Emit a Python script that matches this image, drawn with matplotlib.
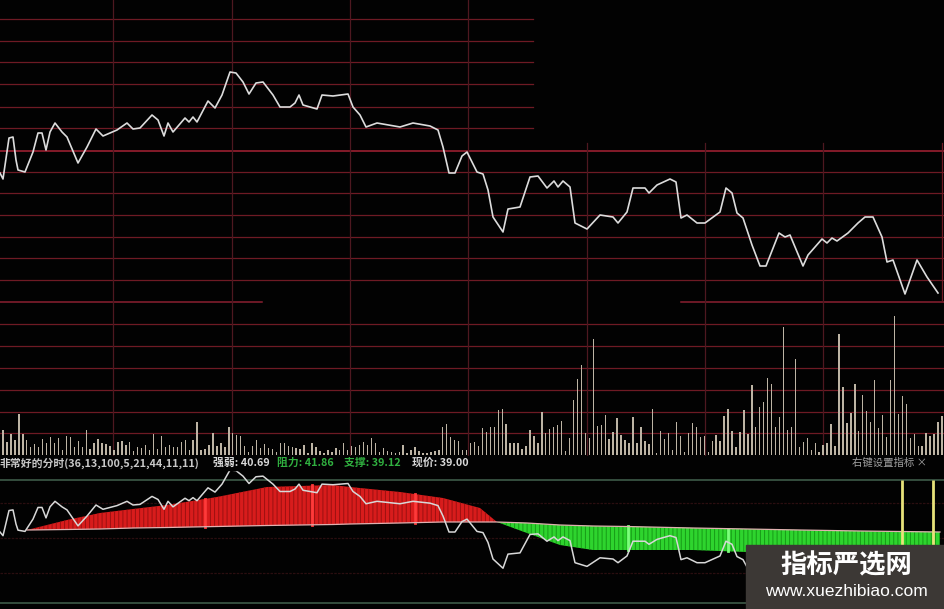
import numpy as np
import matplotlib.pyplot as plt
from matplotlib.patches import Rectangle

plt.rcParams["font.family"] = ["Noto Sans CJK SC", "DejaVu Sans"]
plt.rcParams["hatch.linewidth"] = 0.7

W, H = 945, 609

# intraday price line (t = position along the session, price in yuan)
t_price = [0, 3, 9, 13, 16, 18, 25, 33, 38, 42, 46, 50, 55, 62, 67, 78, 87, 96, 103, 117,
           127, 133, 140, 152, 158, 164, 168, 173, 185, 189, 193, 197, 208, 215, 222, 230,
           236, 243, 249, 256, 263, 273, 280, 290, 295, 299, 303, 317, 322, 333, 348, 353,
           360, 366, 377, 400, 413, 430, 438, 443, 449, 455, 462, 467, 477, 483, 488, 493,
           503, 508, 520, 530, 538, 547, 554, 558, 563, 570, 575, 587, 600, 613, 618, 627,
           633, 645, 649, 657, 670, 676, 681, 687, 697, 705, 720, 726, 732, 737, 743, 752,
           760, 766, 779, 785, 790, 803, 808, 822, 827, 832, 837, 848, 858, 865, 873, 882,
           887, 893, 905, 917, 927, 938]
price = [39.27, 39.21, 39.62, 39.63, 39.40, 39.30, 39.28, 39.48, 39.67, 39.67, 39.50, 39.68,
         39.77, 39.68, 39.63, 39.37, 39.53, 39.71, 39.64, 39.70, 39.77, 39.71, 39.72, 39.85,
         39.80, 39.64, 39.77, 39.68, 39.82, 39.78, 39.83, 39.78, 39.99, 39.92, 40.05, 40.28,
         40.27, 40.18, 40.06, 40.17, 40.18, 40.05, 39.93, 39.93, 39.97, 40.05, 39.95, 39.91,
         40.05, 40.04, 40.06, 39.93, 39.85, 39.73, 39.77, 39.73, 39.77, 39.74, 39.70, 39.53,
         39.27, 39.27, 39.44, 39.48, 39.28, 39.26, 39.10, 38.83, 38.68, 38.91, 38.93, 39.23,
         39.24, 39.12, 39.19, 39.13, 39.19, 39.13, 38.77, 38.71, 38.85, 38.83, 38.77, 38.88,
         39.12, 39.12, 39.07, 39.15, 39.21, 39.18, 38.82, 38.85, 38.77, 38.77, 38.88, 39.12,
         39.07, 38.87, 38.82, 38.55, 38.34, 38.34, 38.67, 38.63, 38.65, 38.34, 38.45, 38.61,
         38.57, 38.62, 38.59, 38.67, 38.77, 38.83, 38.83, 38.63, 38.38, 38.40, 38.06, 38.40,
         38.23, 38.07]

# volume per minute
volume = [25, 13, 21, 15, 41, 21, 15, 8, 11, 8, 16, 12, 18, 12, 17, 5, 19, 18, 8, 14, 8, 25,
          6, 12, 16, 12, 11, 9, 5, 13, 14, 10, 13, 4, 8, 7, 10, 5, 21, 6, 19, 8, 10, 8, 8, 13,
          15, 5, 15, 33, 5, 6, 10, 22, 9, 12, 8, 28, 22, 20, 19,
          9, 3, 9, 15, 7, 11, 7, 6, 3, 12, 12, 9, 8, 7, 6, 10, 2, 12, 8, 4, 2, 5, 3, 7, 5, 12,
          5, 9, 8, 10, 13, 10, 17, 12, 3, 7, 4, 3, 2, 3, 10, 2, 5, 8, 4, 2, 2, 3, 4, 5, 28, 31,
          18, 15, 14, 5, 5, 12,
          13, 9, 27, 23, 28, 28, 45, 46, 31, 12, 12, 12, 6, 9, 25, 19, 12, 43, 22, 26, 28, 30,
          34, 4, 17, 55, 76, 90, 22, 17, 116, 29, 30, 40, 16, 23, 37, 20, 15, 12, 38, 12, 28,
          14, 11, 46, 2, 24, 16, 22, 5, 33, 19, 3, 22, 32, 28, 18, 19, 3,
          14, 20, 14, 39, 46, 24, 8, 23, 45, 21, 70, 28, 48, 53, 77, 71, 28, 38, 128, 25, 28,
          96, 8, 13, 17, 5, 12, 3, 10, 12, 31, 9, 121, 68, 32, 42, 71, 24, 60, 44, 33, 75, 27,
          40, 18, 75, 139, 41, 59, 51, 17, 21, 9, 9, 22, 19, 21, 33, 39]
t_vol = np.linspace(3, 942, len(volume))

# indicator: fast and slow lines
t_ind = [27, 67, 100, 133, 167, 217, 267, 300, 333, 350, 400, 443, 480, 497, 527, 560, 593,
         627, 693, 747, 800, 860, 940]
slow = [70, 70.5, 71, 72, 72.5, 73.5, 74.5, 75, 75.5, 76, 77, 78, 78, 78, 77, 75, 74, 73.5,
        72, 71, 70, 69, 68]
fast = [70, 80, 87, 91, 95, 103, 113, 114, 115, 113, 108, 102, 92, 78, 67, 55, 50, 50, 50,
        48, 48, 50, 55]
hl_t = [205, 312, 415, 628, 728]
hl_lo = [73, 75, 77, 50, 49]
hl_hi = [101, 115, 106, 74, 71]
signal_t = [902, 933]

ind_name = "非常好的分时(36,13,100,5,21,44,11,11)"
qiangruo, zuli, zhicheng, xianjia = "40.69", "41.86", "39.12", "39.00"

fig = plt.figure(figsize=(W / 100, H / 100), dpi=100, facecolor="#020202")

# background grid in pixel space
bg = fig.add_axes([0, 0, 1, 1])
bg.set_xlim(0, W)
bg.set_ylim(H, 0)
bg.set_facecolor("#020202")
bg.axis("off")
grid_c = "#6e1a24"
for y in [19, 41, 62, 84, 107, 128]:
    bg.plot([0, 533], [y, y], color=grid_c, lw=0.9)
bg.plot([0, W], [151, 151], color="#9a2030", lw=1.2)
for y in [172, 193, 215, 237, 258, 280, 324, 346, 368, 390, 412, 433]:
    bg.plot([0, W], [y, y], color=grid_c, lw=0.9)
bg.plot([0, 262], [302, 302], color="#8a2030", lw=1.1)
bg.plot([681, W], [302, 302], color="#8a2030", lw=1.1)
for x in [113, 232, 350, 468]:
    bg.plot([x, x], [0, 455], color="#4e1820", lw=0.9)
for x in [587, 705, 823]:
    bg.plot([x, x], [143, 455], color="#4e1820", lw=0.9)
bg.plot([942, 942], [143, 300], color="#6e1a24", lw=0.9)
# indicator panel lines
bg.plot([0, W], [480, 480], color="#3d5a48", lw=1.2)
bg.plot([0, W], [603, 603], color="#3d5a48", lw=1.2)
for y in [503, 538, 573]:
    bg.plot([0, W], [y, y], color="#2a0e10", lw=0.9, ls=(0, (2, 1)))

top_pos = [0, (H - 455) / H, 1, 455 / H]
ind_pos = [0, 0, 1, 139 / H]

ax_vol = fig.add_axes(top_pos)
ax_vol.set_xlim(0, W)
ax_vol.set_ylim(0, 455)
ax_vol.bar(t_vol, volume, width=1.4, color="#bdb4a4", linewidth=0)
ax_vol.axis("off")

ax_price = fig.add_axes(top_pos)
ax_price.set_xlim(0, W)
ax_price.set_ylim(36.45, 41.0)
ax_price.plot(t_price, price, color="#dcdcdc", lw=1.2)
ax_price.axis("off")

ax_ind = fig.add_axes(ind_pos)
ax_ind.set_xlim(0, W)
ax_ind.set_ylim(-9, 130)
f = np.array(fast)
s = np.array(slow)
ax_ind.fill_between(t_ind, s, f, where=f >= s, interpolate=True, facecolor="#d81c1c",
                    edgecolor="#9a1010", hatch="||||", linewidth=0)
ax_ind.fill_between(t_ind, s, f, where=f <= s, interpolate=True, facecolor="#2ed42e",
                    edgecolor="#169a16", hatch="||||", linewidth=0)
for x, lo, hi in zip(hl_t, hl_lo, hl_hi):
    c = "#ff3a3a" if x < 497 else "#7cff7c"
    ax_ind.plot([x, x], [lo, hi], color=c, lw=2)
ax_ind.plot(t_ind, slow, color="#e0b0b0", lw=0.9)
ax_ind.vlines(signal_t, 35, 120, color="#e8e27a", lw=2)
ax_ind.axis("off")

ax_ip = fig.add_axes(ind_pos)
ax_ip.set_xlim(0, W)
ax_ip.set_ylim(38.016, 40.28)
ax_ip.plot(t_price, price, color="#d8d8d8", lw=1.1)
ax_ip.axis("off")

# header and watermark overlay
ov = fig.add_axes([0, 0, 1, 1])
ov.set_xlim(0, W)
ov.set_ylim(H, 0)
ov.axis("off")
ov.add_patch(Rectangle((0, 456), W, 14, color="#020202", zorder=1))
ty = 463
hdr = dict(fontsize=7.8, fontweight="bold", va="center", zorder=2)
ov.text(0, ty, ind_name, color="#c8c8c8", **hdr)
ov.text(213, ty, "强弱: " + qiangruo, color="#d8d8d8", **hdr)
ov.text(277, ty, "阻力: " + zuli, color="#30b040", **hdr)
ov.text(344, ty, "支撑: " + zhicheng, color="#30b040", **hdr)
ov.text(412, ty, "现价: " + xianjia, color="#d8d8d8", **hdr)
ov.text(852, ty, "右键设置指标 ×", color="#a0a0a0", fontsize=7.5, va="center", zorder=2)

ov.add_patch(Rectangle((746, 545), W - 746, H - 545, color="#3c3835", zorder=3))
ov.text(846, 566, "指标严选网", color="white", fontsize=19, fontweight="bold",
        ha="center", va="center", zorder=4)
ov.text(846, 591, "www.xuezhibiao.com", color="white", fontsize=12.5,
        ha="center", va="center", zorder=4, family=["Liberation Sans", "DejaVu Sans"])

fig.savefig("out.png", dpi=100, facecolor=fig.get_facecolor())
